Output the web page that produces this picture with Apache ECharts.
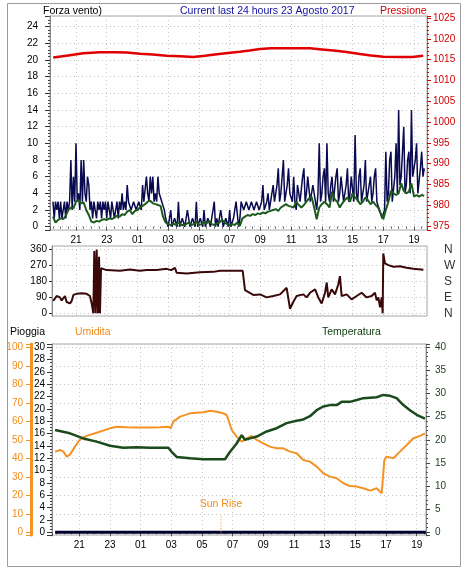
<!DOCTYPE html>
<html><head><meta charset="utf-8">
<script src="https://cdn.jsdelivr.net/npm/echarts@6/dist/echarts.min.js"></script>
<style>html,body{margin:0;padding:0;background:#fff}#c{width:468px;height:571px}</style>
</head><body><div id="c"></div>
<script>
// ---------------- DATA ----------------
// times are decimal hours counted from 00:00 of 22 Aug (values > 24 are on 23 Aug)
const T0 = 19;                      // x axis origin (19:00)
const xTickLabels = ['21','23','01','03','05','07','09','11','13','15','17','19'];
const dirNames = {0:'N', 90:'E', 180:'S', 270:'W', 360:'N'};

// wind gust, one sample every 5 minutes from 19:30
const gustStart = 19.5;
const gustStepH = 1/12;
const windGust = [
 3,1,3,2,3,1,
 3,1,2,3,1,3,2,3,8,2,6,3,
 10,3,4,2,8,3,8,4,3,6,5,2,
 3,1,3,2,1,3,2,3,1,3,2,3,
 1,3,2,1,3,3,1,2,3,1,3,2,
 4,2,3,2,5,3,3,2,2,3,3,2,
 2,3,3,2,5,3,3,6,4,3,6,4,
 6,3,4,3,6,4,4,3,3,2,1,1,
 0,1,2,0,0,1,1,0,3,0,0,1,
 1,0,0,2,2,0,0,1,1,0,3,0,
 0,1,1,0,2,0,0,1,1,0,0,2,
 3,0,1,0,0,2,2,0,0,1,1,0,
 2,0,0,1,1,3,3,0,1,3,3,2,
 2,3,3,2,2,3,3,2,2,3,3,2,
 2,3,5,2,2,3,4,2,3,3,5,3,
 3,5,7,3,4,6,8,3,3,5,7,4,
 4,3,6,3,2,5,5,3,3,6,7,3,
 4,6,6,3,3,5,5,3,2,4,10,3,
 4,6,7,3,10,4,3,5,6,3,3,6,
 7,3,4,6,6,3,3,5,7,3,4,6,
 6,3,11,4,3,6,7,3,4,5,8,3,
 3,5,6,3,4,6,7,3,3,2,2,1,
 1,2,9,3,4,8,9,3,3,6,10,4,
 14,5,6,9,12,4,5,8,9,4,14,6,
 6,8,10,4,4,7,9,6,7
];

// mean wind, one sample every 10 minutes from 19:30
const avgStart = 19.5;
const avgStepH = 1/6;
const windAvg = [
 1.2,0.5,0.8,
 1.0,0.9,1.3,2.0,2.3,2.2,
 3.0,3.2,2.8,2.9,2.0,1.4,
 0.6,0.5,0.7,0.6,0.8,0.9,
 0.8,1.0,0.9,1.1,1.3,1.2,
 1.5,1.4,1.8,2.0,1.5,1.9,
 2.0,2.3,2.5,2.7,3.0,3.1,
 2.8,2.7,2.6,2.5,1.2,0.5,
 0.3,0.2,0.4,0.2,0.5,0.2,
 0.2,0.3,0.5,0.2,0.3,0.6,
 0.2,0.3,0.6,0.4,0.7,0.3,
 0.2,0.4,0.5,0.8,0.6,0.3,
 0.2,0.3,0.2,0.5,0.1,1.0,
 1.2,1.4,1.3,1.5,1.4,1.6,
 1.5,1.7,1.6,1.8,1.9,2.0,
 2.1,1.9,2.3,2.5,2.7,2.5,
 2.4,2.3,3.0,2.6,2.3,2.6,
 3.0,3.4,3.6,2.3,0.9,2.3,
 2.7,3.0,2.7,2.3,4.2,3.3,
 3.0,2.3,2.8,3.2,3.5,3.0,
 4.0,3.5,3.2,2.7,3.0,3.5,
 3.2,2.7,3.0,2.6,2.3,1.6,
 0.9,2.0,3.0,4.3,4.0,3.8,
 4.0,5.2,4.3,4.0,4.2,5.2,
 3.6,3.8,3.6,3.8,3.7
];

const pressTimes  = [19.52,20.5,21.47,22.56,23.5,24.3,25.17,26.0,26.9,27.8,28.63,29.4,30.16,30.9,31.67,32.3,32.98,33.7,34.49,35.4,36.23,37.0,37.75,38.6,39.48,40.2,41.0,42.09,42.9,43.6];
const pressValues = [1015.5,1016.0,1016.5,1016.75,1016.75,1016.7,1016.4,1016.2,1015.9,1015.8,1015.6,1015.9,1016.3,1016.6,1016.9,1017.2,1017.55,1017.7,1017.7,1017.75,1017.7,1017.45,1017.2,1016.8,1016.35,1016.0,1015.7,1015.6,1015.6,1015.9];

const dirTimes  = [19.52,19.74,19.96,20.07,20.28,20.39,20.5,20.61,20.72,20.83,21.04,21.37,21.69,21.91,22.02,22.13,22.19,22.28,22.345,22.43,22.5,22.56,22.63,23.0,23.86,24.51,25.16,25.6,26.25,26.9,27.2,27.44,27.55,28.2,29.07,29.94,30.37,31.24,31.85,32.0,32.11,32.54,32.98,33.41,33.84,34.28,34.71,34.93,35.04,35.14,35.36,35.8,36.01,36.23,36.56,36.77,36.99,37.21,37.32,37.42,37.64,37.86,38.07,38.18,38.29,38.62,38.94,39.27,39.59,39.92,40.24,40.46,40.57,40.68,40.79,40.9,40.96,41.0,41.11,41.33,41.66,42.09,42.52,42.96,43.61];
const dirValues = [70,98,90,73,98,64,56,56,70,104,110,113,110,98,56,0,352,0,360,0,319,0,254,244,240,248,240,244,244,251,244,257,229,225,232,234,240,240,240,131,122,104,107,90,98,107,144,26,17,64,98,107,90,116,135,90,56,116,174,90,135,107,163,210,98,107,79,98,116,90,98,116,73,90,34,90,0,338,282,272,263,266,257,251,246];

const humTimes  = [19.42,19.74,19.96,20.18,20.39,20.72,21.05,21.48,22.13,23.0,23.44,24.09,24.74,25.61,26.26,26.81,26.96,27.13,27.57,28.22,29.09,29.52,29.96,30.39,30.61,30.94,31.26,31.59,31.91,32.24,32.35,32.57,33.0,33.43,33.87,34.3,34.74,35.17,35.61,36.04,36.48,36.91,37.35,37.78,38.22,38.65,39.09,39.52,39.96,40.39,40.72,40.82,40.89,41.04,41.48,41.91,42.35,42.78,43.22,43.54];
const humValues = [43.6,44.5,43.6,40.9,42,46.3,50.3,52.1,53.8,56.2,57.1,56.8,56.6,56.6,56.8,57.1,56.2,59.8,62.5,64.3,64.9,65.7,65.2,64.3,63.4,55.3,51.7,49,50.8,52.1,52.7,49.9,48.1,46.3,45.4,45.4,43.6,42.7,39.1,38.2,35.5,31.9,30.1,29.2,26.5,25,24.7,23.8,22.5,23.8,21.1,20.2,39.1,40.9,40,43.6,47.2,50.8,52.1,53.5];

const tempTimes  = [19.42,20.39,21.26,22.13,23.0,23.87,24.74,25.61,26.81,27.02,27.35,28.22,29.09,29.96,30.5,30.83,31.26,31.59,31.8,32.13,32.57,33.22,33.87,34.52,35.17,35.61,36.04,36.48,36.91,37.35,37.78,38.11,38.65,39.09,39.52,40.39,40.82,41.26,41.69,42.13,42.56,43.0,43.54];
const tempValues = [22.1,21.4,20.3,19.6,18.7,18.3,18.4,18.3,18.3,17.4,16.3,16.0,15.8,15.8,15.8,17.4,19.2,21.0,20.0,20.3,20.7,21.8,22.5,23.6,24.1,24.4,25.1,26.4,27.2,27.5,27.5,28.2,28.2,28.6,29.0,29.2,29.7,29.5,29.0,27.5,26.4,25.4,24.6];

const rainTimes  = [19.42,43.6];
const rainValues = [0,0];

const sunRiseTime = 30.24;
const sunRiseMarkTop = 2.6;   // height of the sunrise tick, in rain-axis units

// ---------------- CHART ----------------
const FONT = "'Liberation Sans Narrow','Liberation Sans',Arial,sans-serif";
const TFONT = "'Liberation Sans',Arial,sans-serif";
const gustTimes = windGust.map((_, i) => gustStart + i * gustStepH);
const avgTimes = windAvg.map((_, i) => avgStart + i * avgStepH);
const pairs = (ts, vs) => ts.map((t, i) => [t - T0, vs[i]]);
const intOnly = v => (Math.abs(v - Math.round(v)) < 1e-6 ? String(Math.round(v)) : '');
const gridLine = {show: true, lineStyle: {color: '#c6c6c6', type: [1, 3], width: 1}};

function xAxis(gridIndex, min, max, showLabels) {
  return {
    type: 'value', gridIndex, min, max, minInterval: 2, maxInterval: 2,
    axisLine: {show: false},
    axisTick: {show: showLabels, length: 4, lineStyle: {color: '#555'}},
    minorTick: {show: showLabels, splitNumber: 4, length: 2, lineStyle: {color: '#555'}},
    axisLabel: {show: showLabels, margin: 5, fontSize: 10, fontFamily: FONT, color: '#000',
      formatter: v => {
        const k = Math.round(v / 2);
        return Math.abs(v - 2 * k) < 1e-6 && xTickLabels[k - 1] ? xTickLabels[k - 1] : '';
      }},
    splitLine: gridLine
  };
}

const chart = echarts.init(document.getElementById('c'), null, {renderer: 'canvas'});
chart.setOption({
  animation: false,
  backgroundColor: '#fff',
  grid: [
    {left: 50, top: 16, width: 377, height: 214, show: true, borderColor: '#a8a8a8', borderWidth: 1, outerBoundsMode: 'none'},
    {left: 52, top: 246, width: 375, height: 70, show: true, borderColor: '#a8a8a8', borderWidth: 1, outerBoundsMode: 'none'},
    {left: 52, top: 344, width: 374, height: 191, show: true, borderColor: '#a8a8a8', borderWidth: 1, outerBoundsMode: 'none'}
  ],
  xAxis: [
    xAxis(0, 0.308, 24.846, true),
    xAxis(1, 0.438, 24.846, false),
    xAxis(2, 0.22, 24.607, true)
  ],
  yAxis: [
    { // 0 wind
      type: 'value', gridIndex: 0, position: 'left', min: -0.4, max: 25.28, minInterval: 2, maxInterval: 2,
      axisLine: {show: true, lineStyle: {color: '#8a8a8a'}},
      axisTick: {show: true, length: 5, lineStyle: {color: '#333'}},
      minorTick: {show: true, splitNumber: 5, length: 2, lineStyle: {color: '#444'}},
      axisLabel: {margin: 12, fontSize: 10, fontFamily: FONT, color: '#000', formatter: intOnly},
      splitLine: gridLine
    },
    { // 1 pressure
      type: 'value', gridIndex: 0, position: 'right', min: 974.04, max: 1025.48, minInterval: 5, maxInterval: 5,
      axisLine: {show: true, lineStyle: {color: '#8a8a8a'}},
      axisTick: {show: true, length: 4, lineStyle: {color: '#d00000'}},
      minorTick: {show: true, splitNumber: 5, length: 2, lineStyle: {color: '#d00000'}},
      axisLabel: {margin: 6, fontSize: 10, fontFamily: FONT, color: '#d00000', formatter: intOnly},
      splitLine: {show: false}
    },
    { // 2 direction degrees
      type: 'value', gridIndex: 1, position: 'left', min: -15, max: 380, minInterval: 90, maxInterval: 90,
      axisLine: {show: true, lineStyle: {color: '#8a8a8a'}},
      axisTick: {show: true, length: 3, lineStyle: {color: '#333'}},
      axisLabel: {margin: 5, fontSize: 10, fontFamily: FONT, color: '#000', formatter: intOnly},
      splitLine: gridLine
    },
    { // 3 direction letters
      type: 'value', gridIndex: 1, position: 'right', min: -15, max: 380, minInterval: 90, maxInterval: 90,
      axisLine: {show: false}, axisTick: {show: false}, splitLine: {show: false},
      axisLabel: {margin: 17, fontSize: 12, fontFamily: TFONT, color: '#333',
        formatter: v => dirNames[Math.round(v)] !== undefined && Math.abs(v - Math.round(v)) < 1e-6 ? dirNames[Math.round(v)] : ''}
    },
    { // 4 rain
      type: 'value', gridIndex: 2, position: 'left', min: -0.438, max: 30.535, minInterval: 2, maxInterval: 2,
      axisLine: {show: true, lineStyle: {color: '#8a8a8a'}},
      axisTick: {show: true, length: 5, lineStyle: {color: '#333'}},
      minorTick: {show: true, splitNumber: 4, length: 2, lineStyle: {color: '#444'}},
      axisLabel: {margin: 7, fontSize: 10, fontFamily: FONT, color: '#000', formatter: intOnly},
      splitLine: {show: false}
    },
    { // 5 humidity
      type: 'value', gridIndex: 2, position: 'left', offset: 21, min: -1.46, max: 101.78, minInterval: 10, maxInterval: 10,
      axisLine: {show: true, lineStyle: {color: '#f39325', width: 3}},
      axisTick: {show: true, length: 5, lineStyle: {color: '#f39325'}},
      axisLabel: {margin: 8, fontSize: 10, fontFamily: FONT, color: '#f08c1c', formatter: intOnly},
      splitLine: gridLine
    },
    { // 6 temperature
      type: 'value', gridIndex: 2, position: 'right', min: -0.58, max: 40.71, minInterval: 5, maxInterval: 5,
      axisLine: {show: true, lineStyle: {color: '#8a8a8a'}},
      axisTick: {show: true, length: 4, lineStyle: {color: '#444'}},
      minorTick: {show: true, splitNumber: 5, length: 2, lineStyle: {color: '#555'}},
      axisLabel: {margin: 9, fontSize: 10, fontFamily: FONT, color: '#1e3a1e', formatter: intOnly},
      splitLine: {show: false}
    }
  ],
  series: [
    {type: 'line', xAxisIndex: 0, yAxisIndex: 0, data: pairs(gustTimes, windGust), symbol: 'none',
      lineStyle: {color: '#0a0a50', width: 1.5}},
    {type: 'line', xAxisIndex: 0, yAxisIndex: 0, data: pairs(avgTimes, windAvg), symbol: 'none',
      lineStyle: {color: '#1d5a1d', width: 2}},
    {type: 'line', xAxisIndex: 0, yAxisIndex: 1, data: pairs(pressTimes, pressValues), symbol: 'none',
      lineStyle: {color: '#e00000', width: 2.5}},
    {type: 'line', xAxisIndex: 1, yAxisIndex: 2, data: pairs(dirTimes, dirValues), symbol: 'none',
      lineStyle: {color: '#3a0808', width: 2}},
    {type: 'line', xAxisIndex: 2, yAxisIndex: 5, data: pairs(humTimes, humValues), symbol: 'none',
      lineStyle: {color: '#f39325', width: 2}},
    {type: 'line', xAxisIndex: 2, yAxisIndex: 6, data: pairs(tempTimes, tempValues), symbol: 'none',
      lineStyle: {color: '#1b4a1b', width: 2.5}},
    {type: 'line', xAxisIndex: 2, yAxisIndex: 4, data: pairs(rainTimes, rainValues), symbol: 'none',
      lineStyle: {color: '#00002e', width: 3}},
    {type: 'line', xAxisIndex: 2, yAxisIndex: 4, symbol: 'circle', symbolSize: 0.01, showSymbol: true,
      itemStyle: {color: '#f08c1c'},
      data: [[sunRiseTime - T0, 0], {value: [sunRiseTime - T0, sunRiseMarkTop],
        label: {show: true, position: 'top', distance: 7, formatter: 'Sun Rise', color: '#f08c1c', fontSize: 10.5, fontFamily: TFONT}}],
      lineStyle: {color: '#f08c1c', width: 1, type: [1, 2]}}
  ],
  graphic: [
    {type: 'rect', silent: true, shape: {x: 7.5, y: 3.5, width: 453, height: 563}, style: {fill: null, stroke: '#9c9c9c', lineWidth: 1}},
    {type: 'text', x: 43, y: 11, style: {text: 'Forza vento)', fill: '#000', font: "10.5px 'Liberation Sans'", verticalAlign: 'middle'}},
    {type: 'text', x: 180, y: 11, style: {text: 'Current last 24 hours 23 Agosto 2017', fill: '#1010a0', font: "10.5px 'Liberation Sans'", verticalAlign: 'middle'}},
    {type: 'text', x: 380, y: 11, style: {text: 'Pressione', fill: '#d00000', font: "10.5px 'Liberation Sans'", verticalAlign: 'middle'}},
    {type: 'text', x: 10, y: 332, style: {text: 'Pioggia', fill: '#000', font: "10.5px 'Liberation Sans'", verticalAlign: 'middle'}},
    {type: 'text', x: 75, y: 332, style: {text: 'Umidita', fill: '#f08c1c', font: "10.5px 'Liberation Sans'", verticalAlign: 'middle'}},
    {type: 'text', x: 322, y: 332, style: {text: 'Temperatura', fill: '#0a3a0a', font: "10.5px 'Liberation Sans'", verticalAlign: 'middle'}}
  ]
});
</script>
</body></html>
